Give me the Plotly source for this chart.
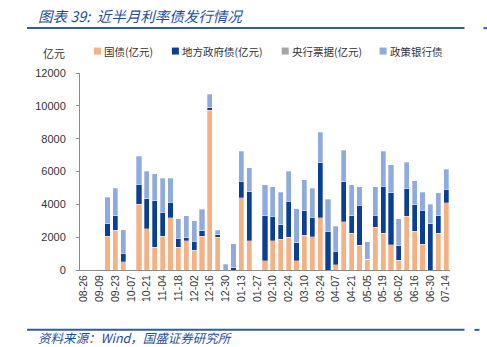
import plotly.graph_objects as go

# ---- data (亿元), weekly ----
weeks = ["08-26","09-02","09-09","09-16","09-23","09-30","10-07","10-14","10-21","10-28",
         "11-04","11-11","11-18","11-25","12-02","12-09","12-16","12-23","12-30","01-06",
         "01-13","01-20","01-27","02-03","02-10","02-17","02-24","03-03","03-10","03-17",
         "03-24","03-31","04-07","04-14","04-21","04-28","05-05","05-12","05-19","05-26",
         "06-02","06-09","06-16","06-23","06-30","07-07","07-14"]
gov_bond = [0,0,0,2070,2420,510,0,4000,2510,1400,
            2060,3170,1400,1790,1200,2060,9745,2000,0,0,
            4395,1780,0,550,1780,1870,2000,550,2110,2030,
            3170,0,305,2950,2235,1505,650,2590,2235,1545,
            590,3270,2350,1565,0,2235,4100]
local_bond = [0,0,0,775,910,490,0,1190,1875,2850,
              1420,930,510,200,510,375,165,175,0,170,
              995,3010,0,2780,1460,930,2160,1150,1520,1140,
              3400,2345,820,2460,1095,2395,0,700,2830,3205,
              915,1715,1650,2035,2845,1115,790]
cb_bills = [0]*47
policy_bond = [0,0,0,1585,1645,1465,0,1735,1645,1600,
               2110,1490,1220,1300,1300,1265,810,260,340,1425,
               1840,1440,0,1860,1825,1950,1850,2030,1880,1810,
               1830,1955,1545,1890,1860,1165,1070,1775,2165,1660,
               1625,1585,1450,1150,1175,1360,1240]
tick_idx = list(range(0, 47, 2))
tick_labels = [weeks[i] for i in tick_idx]

series = [
    ("国债(亿元)", gov_bond, "#F4B183"),
    ("地方政府债(亿元)", local_bond, "#0B3F94"),
    ("央行票据(亿元)", cb_bills, "#A6A6A6"),
    ("政策银行债", policy_bond, "#8FAADC"),
]

W, H = 487, 347
L, R, T, B = 80, 450.5, 73, 270.5
PW, PH = R - L, B - T

def px(x):
    return (x - L) / PW

def py(y):
    return (B - y) / PH

fig = go.Figure()
xs = list(range(len(weeks)))
for name, vals, col in series:
    fig.add_trace(go.Bar(x=xs, y=vals, name=name, marker_color=col,
                         marker_line=dict(color="rgba(255,255,255,0.6)", width=0.5),
                         showlegend=False))

CJK = "Noto Sans CJK SC"
blue = "#1F4E9A"

shapes = []
annotations = []
# title + rules
annotations.append(dict(text="图表 39:  近半月利率债发行情况", x=px(36), y=py(15),
                        xref="paper", yref="paper", xanchor="left", yanchor="middle",
                        showarrow=False, font=dict(family=CJK, size=14.5, color=blue, style="italic")))
shapes.append(dict(type="line", xref="paper", yref="paper", x0=px(27), x1=px(465), y0=py(28), y1=py(28),
                   line=dict(color="#2E5C9E", width=2)))
shapes.append(dict(type="line", xref="paper", yref="paper", x0=px(484), x1=px(488), y0=py(28), y1=py(28),
                   line=dict(color="#2E5C9E", width=2)))
shapes.append(dict(type="line", xref="paper", yref="paper", x0=px(27), x1=px(465), y0=py(330.5), y1=py(330.5),
                   line=dict(color="#2E5C9E", width=2)))
shapes.append(dict(type="line", xref="paper", yref="paper", x0=px(475), x1=px(480), y0=py(330.5), y1=py(330.5),
                   line=dict(color="#2E5C9E", width=2)))
annotations.append(dict(text="资料来源：Wind，国盛证券研究所", x=px(36), y=py(338.5),
                        xref="paper", yref="paper", xanchor="left", yanchor="middle",
                        showarrow=False, font=dict(family=CJK, size=12.5, color=blue, style="italic")))
# unit label
annotations.append(dict(text="亿元", x=px(41), y=py(53), xref="paper", yref="paper",
                        xanchor="left", yanchor="middle", showarrow=False,
                        font=dict(family=CJK, size=11, color="#333333")))
# manual legend
leg_pos = [94, 172, 282, 380]
for (name, vals, col), lx in zip(series, leg_pos):
    shapes.append(dict(type="rect", xref="paper", yref="paper", x0=px(lx), x1=px(lx + 7),
                       y0=py(54.5), y1=py(47.5), fillcolor=col, line=dict(width=0)))
    annotations.append(dict(text=name, x=px(lx + 8), y=py(51.5), xref="paper", yref="paper",
                            xanchor="left", yanchor="middle", showarrow=False,
                            font=dict(family=CJK, size=10.5, color="#333333")))

fig.update_layout(
    width=W, height=H,
    margin=dict(l=L, r=W - R, t=T, b=H - B, pad=0),
    barmode="stack", bargap=0.35,
    plot_bgcolor="white", paper_bgcolor="white",
    shapes=shapes, annotations=annotations,
    font=dict(family="Liberation Sans, Arial", size=11, color="#333333"),
    xaxis=dict(range=[-0.5, 46.5], tickmode="array", tickvals=tick_idx, ticktext=tick_labels,
               tickangle=-90, showgrid=False, zeroline=False, showline=True,
               linecolor="#8C8C8C", linewidth=1, ticks="", ticklen=0,
               tickfont=dict(family="Liberation Sans, Arial", size=10.5, color="#333333")),
    yaxis=dict(range=[0, 12000], tickmode="linear", tick0=0, dtick=2000, tickformat="d",
               showgrid=False, zeroline=False, showline=True, linecolor="#8C8C8C", linewidth=1,
               ticks="outside", ticklen=3, tickcolor="#8C8C8C", ticklabelstandoff=8,
               tickfont=dict(family="Liberation Sans, Arial", size=11, color="#333333")),
)

fig.write_html("out.html")
